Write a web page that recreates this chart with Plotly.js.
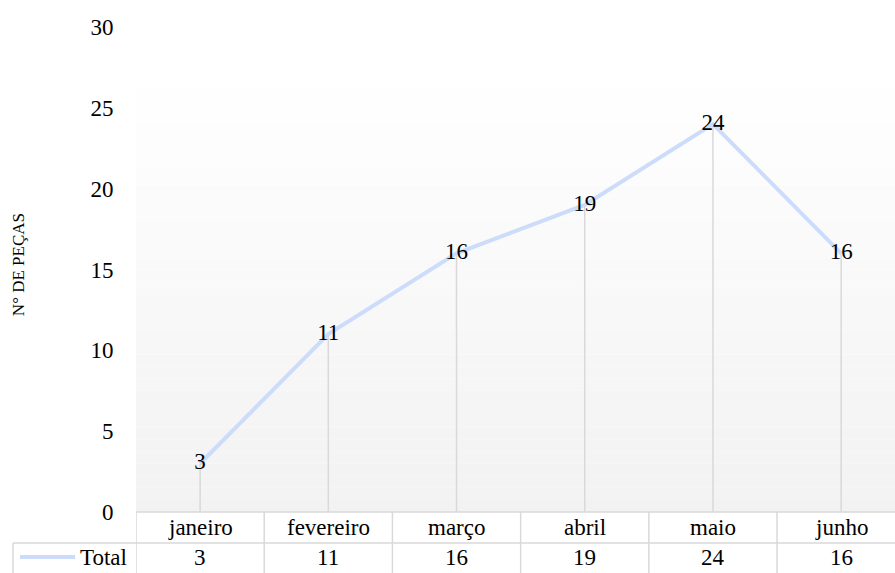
<!DOCTYPE html>
<html>
<head>
<meta charset="utf-8">
<script src="https://cdn.plot.ly/plotly-3.0.1.min.js"></script>
<style>html,body{margin:0;padding:0;background:#fff;}#chart{width:895px;height:573px;}</style>
</head>
<body>
<div id="chart"></div>
<script>
var categories = ["janeiro", "fevereiro", "março", "abril", "maio", "junho"];
var totals = [3, 11, 16, 19, 24, 16];
var seriesName = "Total";
var yTitle = "N° DE PEÇAS";
var yTicks = [0, 5, 10, 15, 20, 25, 30];

var FONT = "Liberation Serif";
var LINE = "#cddcfb";
var GRID = "#d9d9d9";
var xIdx = categories.map(function (c, i) { return i; });

var trace = {
  x: xIdx,
  y: totals,
  mode: "lines+text",
  type: "scatter",
  name: seriesName,
  line: { color: LINE, width: 4 },
  text: totals.map(String),
  textposition: "middle center",
  textfont: { family: FONT, size: 23, color: "#000" },
  error_y: {
    type: "data", symmetric: false,
    array: totals.map(function () { return 0; }),
    arrayminus: totals,
    width: 0, color: GRID, thickness: 1.5
  },
  hoverinfo: "skip",
  cliponaxis: false
};

var shapes = [];
// gradient background
var N = 40, y0g = 0, y1g = 30;
for (var k = 0; k < N; k++) {
  var t = (k + 0.5) / N; // 0 bottom -> 1 top
  var c = Math.round(242 + (255 - 242) * Math.min(1, t * 1.1));
  shapes.push({
    type: "rect", layer: "below", xref: "paper", yref: "y",
    x0: 0, x1: 1, y0: y0g + (y1g - y0g) * k / N, y1: y0g + (y1g - y0g) * (k + 1) / N,
    fillcolor: "rgb(" + c + "," + c + "," + c + ")", line: { width: 0 }
  });
}
// data table lines
var rowTop = 0, rowMid = -31 / 485, rowBot = -62 / 485;
shapes.push({ type: "line", xref: "x", yref: "paper", x0: -0.5, x1: categories.length - 0.5, y0: rowTop, y1: rowTop, line: { color: GRID, width: 1.5 } });
shapes.push({ type: "line", xref: "paper", yref: "paper", x0: -123 / 759, x1: 1.02, y0: rowMid, y1: rowMid, line: { color: GRID, width: 1.5 } });
shapes.push({ type: "line", xref: "paper", yref: "paper", x0: -123 / 759, x1: -123 / 759, y0: rowMid, y1: rowBot - 0.01, line: { color: GRID, width: 1.5 } });
for (var i = 0; i <= categories.length; i++) {
  shapes.push({ type: "line", xref: "x", yref: "paper", x0: i - 0.5, x1: i - 0.5, y0: rowTop, y1: rowBot - 0.01, line: { color: GRID, width: 1.5 } });
}
// legend key line
shapes.push({ type: "line", xref: "paper", yref: "paper", x0: -116 / 759, x1: -61 / 759, y0: -45 / 485, y1: -45 / 485, line: { color: LINE, width: 4 } });

var annotations = [];
categories.forEach(function (c, i) {
  annotations.push({ x: i, y: -15.5 / 485, xref: "x", yref: "paper", text: c, showarrow: false,
    font: { family: FONT, size: 23, color: "#000" }, xanchor: "center", yanchor: "middle" });
  annotations.push({ x: i, y: -45 / 485, xref: "x", yref: "paper", text: String(totals[i]), showarrow: false,
    font: { family: FONT, size: 23, color: "#000" }, xanchor: "center", yanchor: "middle" });
});
annotations.push({ x: -7 / 759, y: -45 / 485, xref: "paper", yref: "paper", text: seriesName, showarrow: false,
  font: { family: FONT, size: 23, color: "#000" }, xanchor: "right", yanchor: "middle" });
annotations.push({ x: -118 / 759, y: 0.509, xref: "paper", yref: "paper", text: yTitle, showarrow: false, textangle: -90,
  font: { family: FONT, size: 17, color: "#000" }, xanchor: "center", yanchor: "middle" });

var layout = {
  width: 895, height: 573,
  margin: { l: 136, r: 0, t: 27, b: 61, pad: 0 },
  paper_bgcolor: "#fff",
  plot_bgcolor: "rgba(0,0,0,0)",
  showlegend: false,
  xaxis: { range: [-0.5, 5.42], showticklabels: false, showgrid: false, zeroline: false, showline: false, ticks: "", fixedrange: true },
  yaxis: { range: [0, 30], tickvals: yTicks, ticktext: yTicks.map(String), showgrid: false, zeroline: false, showline: false,
    ticks: "outside", ticklen: 17, tickcolor: "rgba(0,0,0,0)", tickfont: { family: FONT, size: 23, color: "#000" }, fixedrange: true },
  shapes: shapes,
  annotations: annotations
};

Plotly.newPlot("chart", [trace], layout, { staticPlot: true, displayModeBar: false });
</script>
</body>
</html>
